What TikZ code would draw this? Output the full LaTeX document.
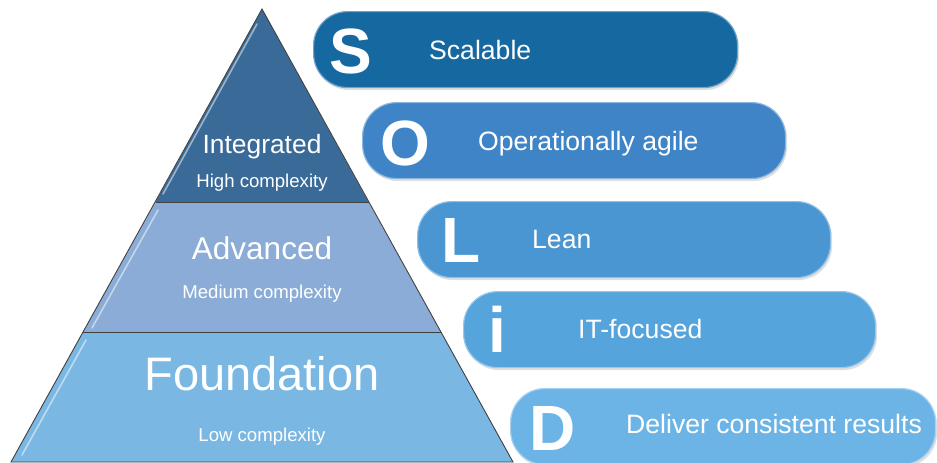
\documentclass[tikz,border=0pt]{standalone}
\usepackage{fontspec}
\setmainfont{Liberation Sans}
\usetikzlibrary{shadows,calc}
\definecolor{ptop}{RGB}{58,106,152}
\definecolor{pmid}{RGB}{138,172,214}
\definecolor{pbot}{RGB}{122,184,227}
\definecolor{cS}{RGB}{21,104,160}
\definecolor{cO}{RGB}{62,132,198}
\definecolor{cL}{RGB}{74,150,210}
\definecolor{cI}{RGB}{86,164,220}
\definecolor{cD}{RGB}{108,180,230}
\tikzset{
  bar/.style={draw=#1!60!white, line width=1.2pt, fill=#1, rounded corners=34pt,
    minimum width=424pt, minimum height=76pt, anchor=north west, inner sep=0pt,
    drop shadow={opacity=0.25, shadow xshift=1.5pt, shadow yshift=-2.5pt}},
  letter/.style={text=white, font=\fontsize{64}{64}\selectfont\bfseries, anchor=base, inner sep=0pt},
  bartext/.style={text=white, font=\fontsize{26.6}{26.6}\selectfont, anchor=base west, inner sep=0pt},
  big/.style={text=white, anchor=base, inner sep=0pt},
  small/.style={text=white, font=\fontsize{18.6}{18.6}\selectfont, anchor=base, inner sep=0pt},
  edge/.style={draw=black!75, line width=0.9pt},
  gloss/.style={white, opacity=0.5, line width=1.6pt, line cap=round},
}
\begin{document}
\begin{tikzpicture}[x=1pt,y=-1pt]
\useasboundingbox (0,0) rectangle (937,463);
% pyramid
\coordinate (apex) at (262,9);
\coordinate (bl) at (11,462);
\coordinate (br) at (513,462);
\coordinate (m1l) at (155.5,202);
\coordinate (m1r) at (368.5,202);
\coordinate (m2l) at (83,332);
\coordinate (m2r) at (441,332);
\fill[pbot] (m2l) -- (m2r) -- (br) -- (bl) -- cycle;
\fill[pmid] (m1l) -- (m1r) -- (m2r) -- (m2l) -- cycle;
\fill[ptop] (apex) -- (m1r) -- (m1l) -- cycle;
% highlights just inside the left edges
\coordinate (g1a) at (257,24);
\coordinate (g1b) at (163,194);
\coordinate (g2a) at (158,210);
\coordinate (g2b) at (92,328);
\coordinate (g3a) at (86,340);
\coordinate (g3b) at (22,455);
\draw[gloss] (g1a) -- (g1b);
\draw[gloss] (g2a) -- (g2b);
\draw[gloss] (g3a) -- (g3b);
\draw[edge] (apex) -- (bl) -- (br) -- cycle;
\draw[edge] (m1l) -- (m1r);
\draw[edge] (m2l) -- (m2r);
% pyramid texts
\node[big, font=\fontsize{26.4}{26.4}\selectfont] (integ) at (262,153) {Integrated};
\node[small] (high) at (262,187) {High complexity};
\node[big, font=\fontsize{31.5}{31.5}\selectfont] (adv) at (262,259) {Advanced};
\node[small] (med) at (262,298) {Medium complexity};
\node[big, font=\fontsize{47}{47}\selectfont] (found) at (262,390) {Foundation};
\node[small] (low) at (262,441) {Low complexity};
% bars
\node[bar=cS] (barS) at (313,11) {};
\node[bar=cO, minimum width=423pt] (barO) at (362,102) {};
\node[bar=cL, minimum width=413pt] (barL) at (417,201) {};
\node[bar=cI, minimum width=412pt] (barI) at (463,291) {};
\node[bar=cD, minimum width=425pt] (barD) at (510,388) {};
% letters
\node[letter] (lS) at (351,73) {S};
\node[letter] (lO) at (405,165) {O};
\node[letter] (lL) at (461,262) {L};
\node[letter] (lI) at (497,352) {i};
\node[letter] (lD) at (553,450) {D};
% bar texts
\node[bartext] (tS) at (429,59) {Scalable};
\node[bartext] (tO) at (478,150) {Operationally agile};
\node[bartext] (tL) at (532,248) {Lean};
\node[bartext] (tI) at (578,338) {IT-focused};
\node[bartext] (tD) at (626,433) {Deliver consistent results};
\end{tikzpicture}
\end{document}
